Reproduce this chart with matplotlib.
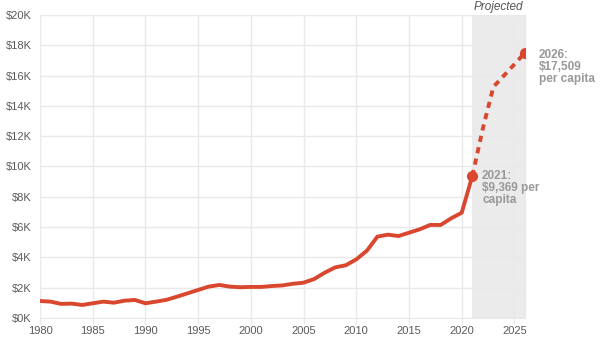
import matplotlib
matplotlib.use("Agg")
import matplotlib.pyplot as plt

plt.rcParams['font.family'] = ['Liberation Sans', 'DejaVu Sans']

# historical spending per capita
years = list(range(1980, 2022))
values = [1120, 1080, 930, 950, 860, 970, 1080, 1010, 1140, 1190,
          970, 1080, 1200, 1410, 1630, 1850, 2070, 2180, 2070, 2030,
          2050, 2050, 2110, 2150, 2260, 2330, 2570, 2990, 3340, 3480,
          3870, 4440, 5370, 5500, 5410, 5630, 5850, 6140, 6140, 6580,
          6950, 9369]

# projection
proj_years = [2021, 2022, 2023, 2024, 2025, 2026]
proj_values = [9369, 12500, 15250, 16000, 16750, 17509]

xticks = [1980, 1985, 1990, 1995, 2000, 2005, 2010, 2015, 2020, 2025]
yticks = [0, 2000, 4000, 6000, 8000, 10000, 12000, 14000, 16000, 18000, 20000]
ytick_labels = ["$0K", "$2K", "$4K", "$6K", "$8K", "$10K", "$12K", "$14K", "$16K", "$18K", "$20K"]

red = "#d9472f"
grid = "#e9e9e9"

fig = plt.figure(figsize=(6, 3.53), dpi=100)
ax = fig.add_axes([0.0667, 0.0992, 0.8083, 0.8583])

ax.axvspan(2021, 2026, color="#ebebeb", zorder=0, lw=0)
ax.plot(years, values, color=red, lw=2.8, solid_capstyle="round", zorder=3)
ax.plot(proj_years, proj_values, color=red, lw=2.8, ls=(0, (1.6, 1.4)), zorder=3)
ax.plot([2021, 2026], [9369, 17509], "o", color=red, ms=7, zorder=4)

ax.set_xlim(1980, 2026)
ax.set_ylim(0, 20000)
ax.set_xticks(xticks)
ax.set_yticks(yticks)
ax.set_yticklabels(ytick_labels)
ax.grid(True, color=grid, lw=1, zorder=1)
ax.set_axisbelow(True)
for s in ["top", "left", "right"]:
    ax.spines[s].set_visible(False)
ax.spines["bottom"].set_color(grid)
ax.tick_params(axis="x", colors=grid, length=4, width=1, labelcolor="#5a5a5a", labelsize=8, pad=2)
ax.tick_params(axis="y", length=0, labelcolor="#5a5a5a", labelsize=8, pad=6)
ax.plot([2026, 2026], [0, 20000], color=grid, lw=1, zorder=1, clip_on=False)

ax.text(2023.5, 20150, "Projected", style="italic", color="#555555", fontsize=8.5,
        ha="center", va="bottom")
ax.annotate("2026:\n$17,509\nper capita", xy=(2026, 17509), xytext=(10, 3),
            textcoords="offset points", ha="left", va="top", fontsize=8.5,
            fontweight="bold", color="#999999", linespacing=1.0, annotation_clip=False)
ax.annotate("2021:\n$9,369 per\ncapita", xy=(2021, 9369), xytext=(7, 4),
            textcoords="offset points", ha="left", va="top", fontsize=8.5,
            fontweight="bold", color="#999999", linespacing=1.0)

fig.savefig("out.png", dpi=100)
